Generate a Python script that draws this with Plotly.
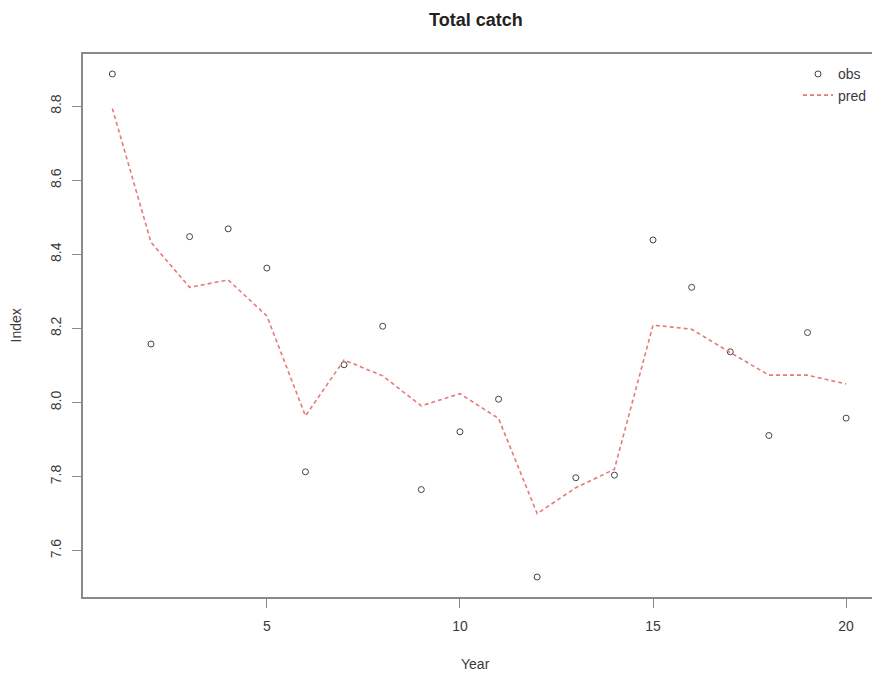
import plotly.graph_objects as go

years = list(range(1, 21))
obs = [8.887, 8.158, 8.448, 8.469, 8.363, 7.813, 8.102, 8.206, 7.765, 7.921,
       8.009, 7.529, 7.797, 7.804, 8.439, 8.311, 8.137, 7.911, 8.189, 7.958]
pred = [8.794, 8.433, 8.311, 8.331, 8.234, 7.964, 8.115, 8.072, 7.991, 8.024,
        7.957, 7.700, 7.770, 7.820, 8.209, 8.198, 8.135, 8.074, 8.074, 8.050]
x_ticks = [5, 10, 15, 20]
y_ticks = [7.6, 7.8, 8.0, 8.2, 8.4, 8.6, 8.8]

FONT = "Liberation Sans, Arial, sans-serif"
TXT = "#3a3a3a"
AX = "#8a8a8a"

fig = go.Figure()
fig.add_trace(go.Scatter(
    x=years, y=obs, mode="markers", name="obs",
    marker=dict(symbol="circle-open", size=6, color="#444444", line=dict(width=1, color="#444444")),
))
fig.add_trace(go.Scatter(
    x=years, y=pred, mode="lines", name="pred",
    line=dict(color="#e67a7a", width=1.6, dash="4px,3px"),
))

fig.update_layout(
    width=872, height=676,
    margin=dict(l=83, r=0, t=54, b=79),
    paper_bgcolor="white", plot_bgcolor="white",
    font=dict(family=FONT, size=14, color=TXT),
    showlegend=True,
    legend=dict(x=0.9063, y=0.992, xanchor="left", yanchor="top",
                bgcolor="rgba(0,0,0,0)", font=dict(size=14, color=TXT),
                itemwidth=30, tracegroupgap=0),
    xaxis=dict(range=[0.24, 20.67], tickvals=x_ticks, ticks="outside", ticklen=9,
               tickcolor=AX, showline=True, linecolor=AX, linewidth=1.5, mirror=True,
               showgrid=False, zeroline=False, tickfont=dict(size=14, color=TXT),
               ticklabelstandoff=6),
    yaxis=dict(range=[7.475, 8.941], tickvals=y_ticks, tickformat=".1f", ticks="outside",
               ticklen=9, tickcolor=AX, showline=True, linecolor=AX, linewidth=1.5,
               mirror=False, showgrid=False, zeroline=False, tickangle=-90,
               tickfont=dict(size=14, color=TXT), ticklabelstandoff=6),
    annotations=[
        dict(text="<b>Total catch</b>", xref="paper", yref="paper", x=0.5, y=1,
             yshift=46, xshift=-2, showarrow=False, font=dict(size=18, color="#222222")),
        dict(text="Year", xref="paper", yref="paper", x=0.5, y=0, yshift=-77, xshift=-2,
             showarrow=False, font=dict(size=14, color=TXT)),
        dict(text="Index", xref="paper", yref="paper", x=0, y=0.5, xshift=-78, textangle=-90,
             showarrow=False, font=dict(size=14, color=TXT)),
    ],
)

fig.write_html("out.html")
